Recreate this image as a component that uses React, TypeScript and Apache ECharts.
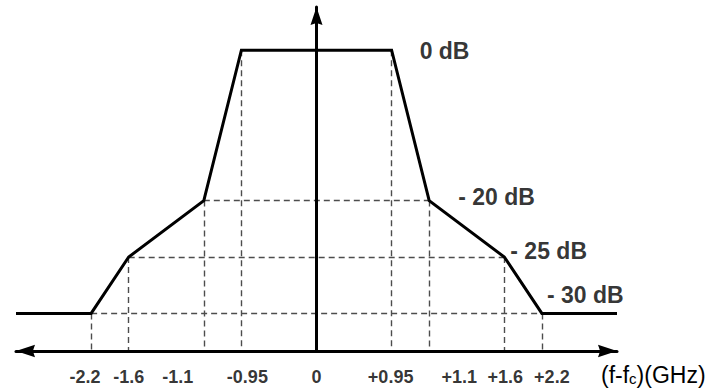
import React, { useEffect, useRef } from 'react';
import * as echarts from 'echarts';

// Frequency offsets from the carrier (GHz) and their slot on the schematic axis
const freqTicks = [-2.2, -1.6, -1.1, -0.95, 0, 0.95, 1.1, 1.6, 2.2];
const freqSlots = [-6, -5, -3, -2, 0, 2, 3, 5, 6];

// Attenuation levels (dB) and their slot on the schematic vertical axis
const levelDb = [0, -20, -25, -30];
const levelSlots = [16, 8, 5, 2];
const levelLabels = ['0 dB', '- 20 dB', '- 25 dB', '- 30 dB'];

// Corners of the spectral mask
const maskGHz = [-2.2, -1.6, -1.1, -0.95, 0.95, 1.1, 1.6, 2.2];
const maskDb = [-30, -25, -20, 0, 0, -20, -25, -30];

// Axis extent in slots
const X_END = 8;
const Y_TOP = 18.3;

const FONT = '"Liberation Sans", Arial, Helvetica, sans-serif';

const fx = (ghz: number) => freqSlots[freqTicks.indexOf(ghz)];
const fy = (db: number) => levelSlots[levelDb.indexOf(db)];
const fmtGHz = (v: number) => (v > 0 ? '+' + v : String(v));

// tick label nudges so neighbouring labels don't crowd each other
const tickNudge = [-6, 0, -26, 6, 0, -1, 30, 1, 10];
// level label placement relative to the right-hand corner at that level
const levelOffset: [number, number][] = [
  [28, 1],
  [29, -4],
  [6, -6],
  [5, -18],
];

export default function App() {
  const ref = useRef<HTMLDivElement>(null);

  useEffect(() => {
    if (!ref.current) return;
    const chart = echarts.init(ref.current, null, { renderer: 'svg' });

    const floor = fy(-30);
    const maskLine: number[][] = [[-X_END, floor]];
    maskGHz.forEach((g, i) => maskLine.push([fx(g), fy(maskDb[i])]));
    maskLine.push([X_END, floor]);

    // dashed guides: verticals from each corner to the axis, horizontals across each level
    const guides: { coords: number[][] }[] = [];
    maskGHz.forEach((g, i) => {
      guides.push({ coords: [[fx(g), fy(maskDb[i])], [fx(g), 0]] });
    });
    [-20, -25, -30].forEach((db) => {
      const xs = maskGHz.filter((_, i) => maskDb[i] === db).map(fx);
      guides.push({ coords: [[Math.min(...xs), fy(db)], [Math.max(...xs), fy(db)]] });
    });

    const arrow = 'path://M0,0 L6,18 L0,16 L-6,18 Z';

    chart.setOption({
      animation: false,
      backgroundColor: '#fff',
      grid: { left: 16, right: 92, top: 7, bottom: 40, containLabel: false, outerBoundsMode: 'none' },
      xAxis: {
        type: 'value',
        min: -X_END,
        max: X_END,
        z: 5,
        axisLine: {
          show: true,
          onZero: true,
          symbol: [arrow, arrow],
          symbolSize: [14, 19],
          symbolOffset: [9.5, -9.5],
          lineStyle: { color: '#000', width: 3 },
        },
        axisTick: { show: false },
        axisLabel: { show: false },
        splitLine: { show: false },
      },
      yAxis: {
        type: 'value',
        min: 0,
        max: Y_TOP,
        z: 5,
        axisLine: {
          show: true,
          onZero: true,
          symbol: ['none', arrow],
          symbolSize: [13, 18],
          symbolOffset: [0, -9],
          lineStyle: { color: '#000', width: 3 },
        },
        axisTick: { show: false },
        axisLabel: { show: false },
        splitLine: { show: false },
      },
      series: [
        {
          name: 'guides',
          type: 'lines',
          coordinateSystem: 'cartesian2d',
          silent: true,
          z: 1,
          lineStyle: { color: '#4d4d4d', width: 1.4, type: [6, 4], opacity: 1 },
          data: guides,
        },
        {
          name: 'mask',
          type: 'line',
          silent: true,
          z: 3,
          symbol: 'none',
          lineStyle: { color: '#000', width: 3, join: 'miter' },
          data: maskLine,
        },
        {
          name: 'freq labels',
          type: 'scatter',
          silent: true,
          z: 6,
          symbolSize: 1,
          itemStyle: { color: 'rgba(0,0,0,0)' },
          label: {
            show: true,
            position: 'inside',
            color: '#000',
            fontFamily: FONT,
            fontWeight: 'bold',
            fontSize: 18,
            formatter: (p: any) => fmtGHz(freqTicks[p.dataIndex]),
          },
          data: freqTicks.map((g, i) => ({
            value: [fx(g), 0],
            label: { offset: [tickNudge[i], 26] },
          })),
        },
        {
          name: 'level labels',
          type: 'scatter',
          silent: true,
          z: 6,
          symbolSize: 1,
          itemStyle: { color: 'rgba(0,0,0,0)' },
          label: {
            show: true,
            position: 'inside',
            align: 'left',
            verticalAlign: 'middle',
            color: '#000',
            fontFamily: FONT,
            fontWeight: 'bold',
            fontSize: 23,
            formatter: (p: any) => levelLabels[p.dataIndex],
          },
          data: levelDb.map((db, i) => {
            const right = Math.max(...maskGHz.filter((_, k) => maskDb[k] === db).map(fx));
            return { value: [right, fy(db)], label: { offset: levelOffset[i] } };
          }),
        },
      ],
      graphic: [
        {
          type: 'text',
          left: 601,
          top: 363,
          silent: true,
          style: {
            text: '(f-f{c|c})(GHz)',
            fill: '#000',
            fontFamily: FONT,
            fontSize: 23,
            rich: {
              c: { fontSize: 15, fontFamily: FONT, fill: '#000', verticalAlign: 'bottom', padding: [6, 0, 0, 0] },
            },
          },
        },
      ],
    });

    return () => chart.dispose();
  }, []);

  return (
    <div
      ref={ref}
      style={{ position: 'fixed', left: 0, top: 0, width: 709, height: 391, background: '#fff' }}
    />
  );
}
